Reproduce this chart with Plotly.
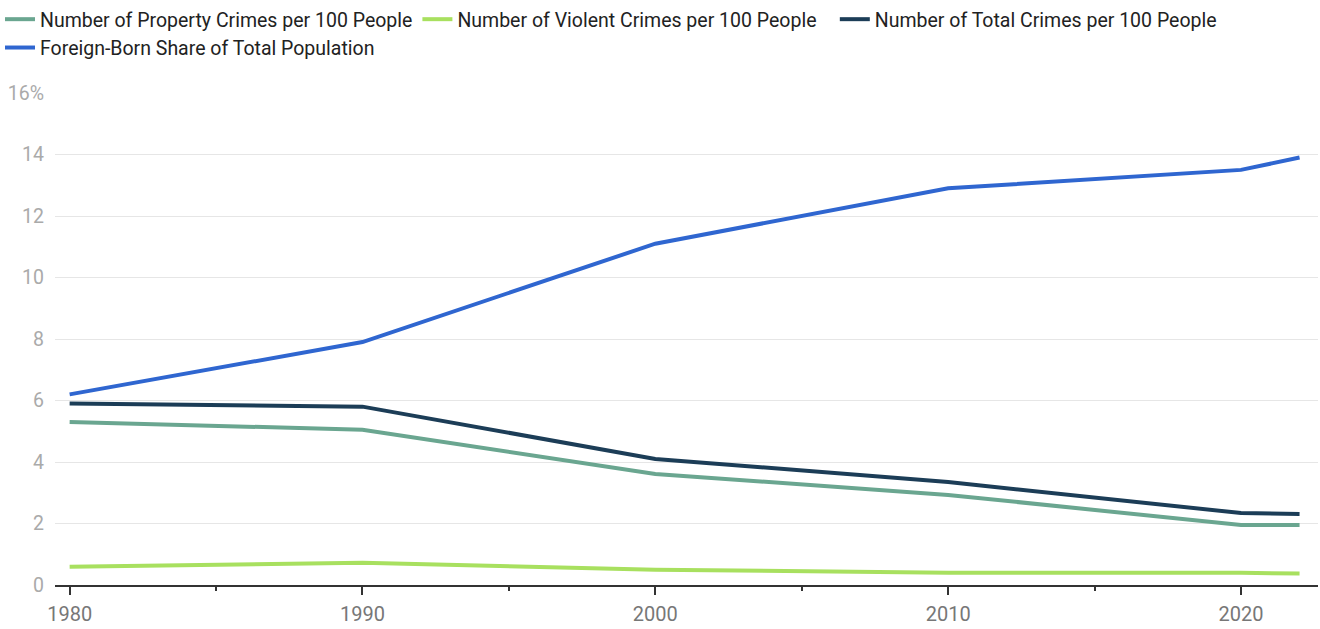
import plotly.graph_objects as go

years = [1980, 1990, 2000, 2010, 2020, 2022]
property_crimes = [5.3, 5.05, 3.61, 2.93, 1.95, 1.95]
violent_crimes = [0.59, 0.72, 0.5, 0.4, 0.4, 0.37]
total_crimes = [5.9, 5.8, 4.1, 3.35, 2.34, 2.31]
foreign_born = [6.2, 7.9, 11.1, 12.9, 13.5, 13.9]

y_tickvals = [0, 2, 4, 6, 8, 10, 12, 14, 16]
y_ticktext = ["0", "2", "4", "6", "8", "10", "12", "14", "16%"]
x_tickvals = [1980, 1990, 2000, 2010, 2020]

series = [
    ("Number of Property Crimes per 100 People", property_crimes, "#6aa690"),
    ("Number of Violent Crimes per 100 People", violent_crimes, "#a8e05f"),
    ("Number of Total Crimes per 100 People", total_crimes, "#1c3d57"),
    ("Foreign-Born Share of Total Population", foreign_born, "#2f66d0"),
]

fig = go.Figure()
for name, vals, color in series:
    fig.add_trace(go.Scatter(x=years, y=vals, name=name, mode="lines",
                             line=dict(color=color, width=4)))

fig.update_layout(
    width=1320, height=629,
    margin=dict(l=55, r=2, t=93, b=44),
    plot_bgcolor="white", paper_bgcolor="white",
    font=dict(family="Roboto", size=19, color="#333"),
    showlegend=True,
    legend=dict(orientation="h", xref="container", yref="container",
                x=0.0, y=1.0, xanchor="left", yanchor="top",
                font=dict(size=19.5, color="#222"), tracegroupgap=0,
                itemwidth=30),
    xaxis=dict(range=[1979.5, 2022.63], tickvals=x_tickvals,
               showgrid=False, zeroline=False,
               showline=True, linecolor="#333", linewidth=1.5,
               ticks="outside", ticklen=8, tickwidth=1.5, tickcolor="#333",
               ticklabelstandoff=2,
               tickfont=dict(color="#777", size=20),
               minor=dict(tickvals=[1985, 1995, 2005, 2015], ticks="outside",
                          ticklen=4, tickwidth=1.5, tickcolor="#333")),
    yaxis=dict(range=[0, 16], tickvals=y_tickvals, ticktext=y_ticktext,
               showgrid=True, gridcolor="#e6e6e6", gridwidth=1,
               zeroline=False, showline=False, ticks="",
               ticklabelstandoff=10,
               tickfont=dict(color="#aaa", size=19.5)),
)

fig.write_html("out.html")
